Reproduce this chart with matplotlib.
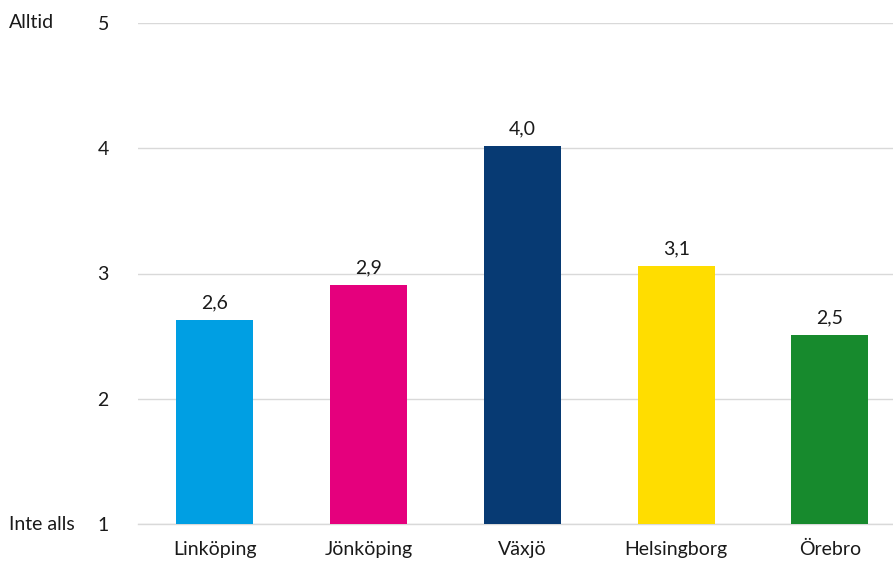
import matplotlib
matplotlib.use("Agg")
import matplotlib.pyplot as plt
from matplotlib.transforms import blended_transform_factory

cities = ["Linköping", "Jönköping", "Växjö", "Helsingborg", "Örebro"]
values = [2.63, 2.91, 4.02, 3.06, 2.51]
colors = ["#009fe3", "#e5007d", "#073a73", "#ffdd00", "#178a2d"]
yticks = [1, 2, 3, 4, 5]
scale_labels = {5: "Alltid", 1: "Inte alls"}

plt.rcParams["font.family"] = ["Lato", "DejaVu Sans"]
FS = 14
TXT = "#1a1a1a"

fig = plt.figure(figsize=(8.93, 5.65), dpi=100)
ax = fig.add_axes([138 / 893, 1 - 524 / 565, 768.75 / 893, (524 - 23) / 565])

x = list(range(len(cities)))
ax.bar(x, [v - 1 for v in values], bottom=1, width=0.5, color=colors, zorder=3)

for xi, v in zip(x, values):
    ax.annotate(f"{v:.1f}".replace(".", ","), (xi, v), xytext=(0, 6),
                textcoords="offset points", ha="center", va="bottom",
                fontsize=FS, color=TXT)

ax.set_xlim(-0.5, len(cities) - 0.5)
ax.set_ylim(1, 5)
ax.set_yticks(yticks)
ax.set_yticklabels([str(t) for t in yticks], fontsize=FS, color=TXT)
ax.tick_params(axis="y", length=0, pad=21)
ax.set_xticks(x)
ax.set_xticklabels(cities, fontsize=FS, color=TXT)
ax.tick_params(axis="x", length=0, pad=12)

ax.grid(axis="y", color="#d9d9d9", linewidth=1, zorder=0)
for side in ["top", "right", "left"]:
    ax.spines[side].set_visible(False)
ax.spines["bottom"].set_color("#d9d9d9")
ax.spines["bottom"].set_linewidth(1)

# End-point descriptions of the response scale, left of the tick numbers
trans = blended_transform_factory(fig.transFigure, ax.transData)
for yv, lab in scale_labels.items():
    fig.text(9 / 893, yv, lab, transform=trans, ha="left", va="center",
             fontsize=FS, color=TXT)

fig.savefig("out.png", dpi=100)
